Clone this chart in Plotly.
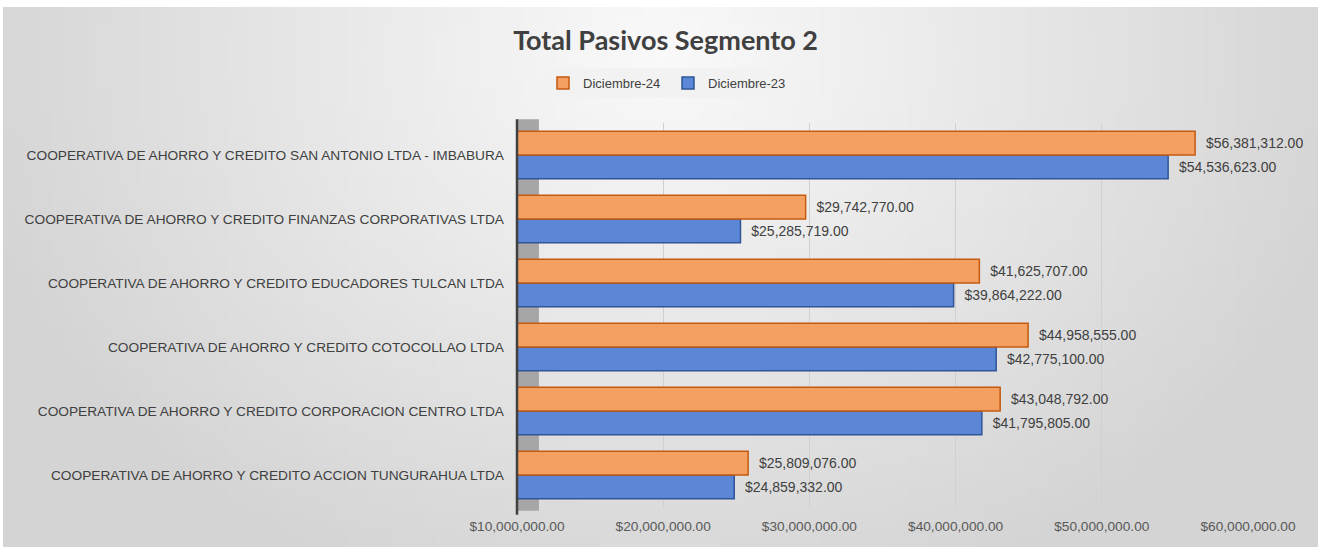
import base64, struct, zlib
import plotly.graph_objects as go

# ---- data (categories listed bottom-to-top) ----
categories = [
    "COOPERATIVA DE AHORRO Y CREDITO ACCION TUNGURAHUA LTDA",
    "COOPERATIVA DE AHORRO Y CREDITO CORPORACION CENTRO LTDA",
    "COOPERATIVA DE AHORRO Y CREDITO COTOCOLLAO LTDA",
    "COOPERATIVA DE AHORRO Y CREDITO EDUCADORES TULCAN LTDA",
    "COOPERATIVA DE AHORRO Y CREDITO FINANZAS CORPORATIVAS LTDA",
    "COOPERATIVA DE AHORRO Y CREDITO SAN ANTONIO LTDA - IMBABURA",
]
dic_24 = [25809076, 43048792, 44958555, 41625707, 29742770, 56381312]
dic_23 = [24859332, 41795805, 42775100, 39864222, 25285719, 54536623]
tick_vals = [10000000, 20000000, 30000000, 40000000, 50000000, 60000000]
tick_text = ["$10,000,000.00", "$20,000,000.00", "$30,000,000.00",
             "$40,000,000.00", "$50,000,000.00", "$60,000,000.00"]

W, H = 1318, 547
L, R, T, B = 517, 70, 123, 40
pw, ph = W - L - R, H - T - B


def money(v):
    return "\u00a0\u00a0${:,.2f}".format(v)


# ---- background gradient PNG (decorative) ----
def make_png(w, h):
    rows = b""
    for j in range(h):
        row = b"\x00"
        for i in range(w):
            dx = (i / (w - 1) - 0.5) / 0.55
            dy = (j / (h - 1) - 0.08) / 1.1
            d = min(1.0, (dx * dx + dy * dy) ** 0.5)
            c = int(250 - (250 - 212) * d)
            row += bytes([c, c, c])
        rows += row
    def chunk(t, data):
        return struct.pack(">I", len(data)) + t + data + struct.pack(">I", zlib.crc32(t + data) & 0xffffffff)
    png = b"\x89PNG\r\n\x1a\n" + chunk(b"IHDR", struct.pack(">IIBBBBB", w, h, 8, 2, 0, 0, 0)) \
        + chunk(b"IDAT", zlib.compress(rows, 9)) + chunk(b"IEND", b"")
    return "data:image/png;base64," + base64.b64encode(png).decode()


bg = make_png(120, 50)
label_font = dict(family="Liberation Sans, Arial", size=14, color="#404040")

fig = go.Figure()
fig.add_trace(go.Bar(
    y=categories, x=dic_23, orientation="h", name="Diciembre-23",
    marker=dict(color="#5B87D6", line=dict(color="#2F5597", width=1.5)),
    text=[money(v) for v in dic_23], textposition="outside",
    textfont=label_font, cliponaxis=False,
))
fig.add_trace(go.Bar(
    y=categories, x=dic_24, orientation="h", name="Diciembre-24",
    marker=dict(color="#F4A060", line=dict(color="#C55A11", width=1.5)),
    text=[money(v) for v in dic_24], textposition="outside",
    textfont=label_font, cliponaxis=False,
))

fig.update_layout(
    width=W, height=H,
    margin=dict(l=L, r=R, t=T, b=B, autoexpand=False),
    paper_bgcolor="white",
    plot_bgcolor="rgba(0,0,0,0)",
    barmode="group", bargap=0.26, bargroupgap=0.0,
    title=dict(text="<b>Total Pasivos Segmento 2</b>", x=0.505, xanchor="center",
               y=0.925, yanchor="middle",
               font=dict(family="Lato, Liberation Sans", size=27, color="#404040")),
    legend=dict(orientation="h", x=(668 - L) / pw, xanchor="center", y=(H - B - 83) / ph,
                yanchor="middle", traceorder="reversed",
                bgcolor="#F2F2F2", font=dict(family="Liberation Sans, Arial", size=13, color="#404040"),
                itemwidth=30, entrywidth=80, entrywidthmode="pixels"),
    xaxis=dict(range=[10000000, 60000000], tickvals=tick_vals, ticktext=tick_text,
               showgrid=True, gridcolor="#D0D0D0", gridwidth=1, zeroline=False,
               showline=False, ticks="", ticklabelstandoff=9, automargin=False,
               tickfont=dict(family="Liberation Sans, Arial", size=13.7, color="#595959")),
    yaxis=dict(showgrid=False, zeroline=False, ticks="", ticklabelstandoff=12, automargin=False,
               tickfont=dict(family="Liberation Sans, Arial", size=13.7, color="#404040")),
    images=[dict(source=bg, xref="paper", yref="paper",
                 x=(3 - L) / pw, y=(H - B - 7) / ph, sizex=(W - 3) / pw, sizey=(H - 7) / ph,
                 xanchor="left", yanchor="top", sizing="stretch", layer="below")],
    shapes=[
        dict(type="rect", xref="x domain", yref="y domain", x0=0, x1=0.03, y0=-0.01, y1=1.01,
             fillcolor="#A6A6A6", line=dict(width=0), layer="below"),
        dict(type="line", xref="x domain", yref="y domain", x0=0, x1=0, y0=-0.02, y1=1.01,
             line=dict(color="#404040", width=2.5), layer="above"),
    ],
)

fig.write_html("out.html", config={"displayModeBar": False},
               post_script="document.body.style.margin='0';")
